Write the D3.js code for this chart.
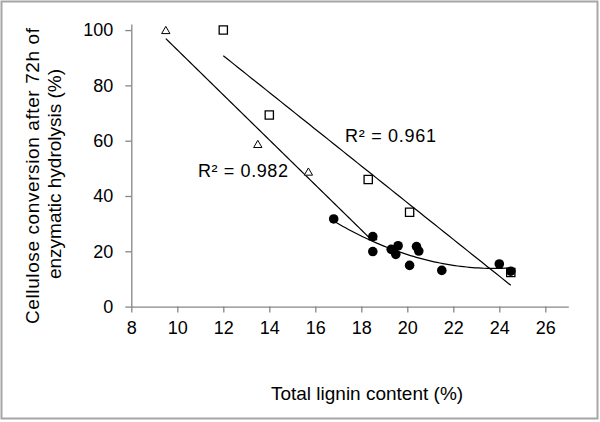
<!DOCTYPE html>
<html>
<head>
<meta charset="utf-8">
<script src="https://cdn.jsdelivr.net/npm/d3@7"></script>
<style>
  body { margin: 0; background: #fff; }
  text { font-family: "Liberation Sans", Arial, sans-serif; fill: #000; }
</style>
</head>
<body>
<div id="canvas"></div>
<script>

// ticks
var xTicks = [8, 10, 12, 14, 16, 18, 20, 22, 24, 26];
var yTicks = [0, 20, 40, 60, 80, 100];

// triangle series (last point sits under a dot)
var triLignin = [9.5, 13.5, 15.7, 18.5];
var triConv = [99.6, 58.4, 48.4, 25.0];

// square series
var sqLignin = [12.0, 14.0, 18.3, 20.1, 24.5];
var sqConv = [100.0, 69.3, 46.0, 34.1, 12.3];

// filled dots
var dotLignin = [16.8, 18.5, 18.5, 19.3, 19.6, 19.5, 20.1, 20.4, 20.5, 21.5, 24.0, 24.5];
var dotConv = [31.7, 25.3, 19.9, 20.7, 22.0, 18.9, 14.9, 21.7, 20.1, 13.1, 15.4, 12.8];

var r2Labels = ["R\u00b2 = 0.961", "R\u00b2 = 0.982"];

var width = 600, height = 422;

var svg = d3.select("#canvas").append("svg")
    .attr("width", width)
    .attr("height", height);

svg.append("rect")
    .attr("x", 1.5).attr("y", 1.5)
    .attr("width", 596).attr("height", 417)
    .attr("fill", "#fff")
    .attr("stroke", "#a6a6a6")
    .attr("stroke-width", 2);

var x = d3.scaleLinear().domain([8, 27]).range([131.3, 568.3]);
var y = d3.scaleLinear().domain([0, 102.2]).range([306.6, 24]);

function zip(a, b) {
    return a.map(function (v, i) { return [v, b[i]]; });
}

// least squares straight line
function linFit(xs, ys) {
    var mx = d3.mean(xs), my = d3.mean(ys);
    var sxy = 0, sxx = 0;
    xs.forEach(function (v, i) {
        sxy += (v - mx) * (ys[i] - my);
        sxx += (v - mx) * (v - mx);
    });
    var b = sxy / sxx;
    return function (v) { return my + b * (v - mx); };
}

// least squares 2nd order polynomial
function quadFit(xs, ys) {
    var s = [0, 0, 0, 0, 0], t = [0, 0, 0];
    xs.forEach(function (v, i) {
        for (var k = 0; k < 5; k++) s[k] += Math.pow(v, k);
        for (var k = 0; k < 3; k++) t[k] += Math.pow(v, k) * ys[i];
    });
    var m = [
        [s[0], s[1], s[2], t[0]],
        [s[1], s[2], s[3], t[1]],
        [s[2], s[3], s[4], t[2]]
    ];
    for (var i = 0; i < 3; i++) {
        for (var j = i + 1; j < 3; j++) {
            var f = m[j][i] / m[i][i];
            for (var k = i; k < 4; k++) m[j][k] -= f * m[i][k];
        }
    }
    var c = [0, 0, 0];
    for (var i = 2; i >= 0; i--) {
        var sum = m[i][3];
        for (var k = i + 1; k < 3; k++) sum -= m[i][k] * c[k];
        c[i] = sum / m[i][i];
    }
    return function (v) { return c[0] + c[1] * v + c[2] * v * v; };
}

// axes
var axisColor = "#868686";

var xAxis = svg.append("g")
    .attr("transform", "translate(0," + y(0) + ")")
    .call(d3.axisBottom(x).tickValues(xTicks).tickSize(6).tickSizeOuter(0).tickPadding(9));
var yAxis = svg.append("g")
    .attr("transform", "translate(" + x(8) + ",0)")
    .call(d3.axisLeft(y).tickValues(yTicks).tickSize(6).tickSizeOuter(0).tickPadding(12));

[xAxis, yAxis].forEach(function (g) {
    g.select(".domain").attr("stroke", axisColor).attr("stroke-width", 1.3);
    g.selectAll(".tick line").attr("stroke", axisColor).attr("stroke-width", 1.3);
    g.selectAll(".tick text")
        .attr("font-family", "Liberation Sans, Arial, sans-serif")
        .attr("font-size", "18px")
        .attr("fill", "#000");
});

// trendlines
var line = d3.line()
    .x(function (d) { return x(d[0]); })
    .y(function (d) { return y(d[1]); });

function drawFit(xs, f) {
    var lo = d3.min(xs), hi = d3.max(xs);
    var pts = d3.range(0, 61).map(function (i) {
        var v = lo + (hi - lo) * i / 60;
        return [v, f(v)];
    });
    svg.append("path")
        .attr("d", line(pts))
        .attr("fill", "none")
        .attr("stroke", "#000")
        .attr("stroke-width", 1.2);
}

drawFit(triLignin, linFit(triLignin, triConv));
drawFit(sqLignin, linFit(sqLignin, sqConv));
drawFit(dotLignin, quadFit(dotLignin, dotConv));

// markers
svg.selectAll(".tri")
    .data(zip(triLignin, triConv)).enter()
    .append("path")
    .attr("class", "tri")
    .attr("d", d3.symbol().type(d3.symbolTriangle).size(30))
    .attr("transform", function (d) { return "translate(" + x(d[0]) + "," + y(d[1]) + ")"; })
    .attr("fill", "#fff")
    .attr("stroke", "#000")
    .attr("stroke-width", 1);

svg.selectAll(".sq")
    .data(zip(sqLignin, sqConv)).enter()
    .append("path")
    .attr("class", "sq")
    .attr("d", d3.symbol().type(d3.symbolSquare).size(68))
    .attr("transform", function (d) { return "translate(" + x(d[0]) + "," + y(d[1]) + ")"; })
    .attr("fill", "#fff")
    .attr("stroke", "#000")
    .attr("stroke-width", 1.3);

svg.selectAll(".dot")
    .data(zip(dotLignin, dotConv)).enter()
    .append("circle")
    .attr("class", "dot")
    .attr("r", 4.8)
    .attr("cx", function (d) { return x(d[0]); })
    .attr("cy", function (d) { return y(d[1]); })
    .attr("fill", "#000");

// R squared labels
svg.append("text")
    .attr("x", 345).attr("y", 141.5)
    .attr("font-size", "18px")
    .attr("textLength", 91)
    .text(r2Labels[0]);
svg.append("text")
    .attr("x", 198).attr("y", 177)
    .attr("font-size", "18px")
    .attr("textLength", 90)
    .text(r2Labels[1]);

// axis titles
svg.append("text")
    .attr("x", 367).attr("y", 400)
    .attr("text-anchor", "middle")
    .attr("font-size", "19px")
    .text("Total lignin content (%)");

svg.append("text")
    .attr("transform", "translate(39,176) rotate(-90)")
    .attr("text-anchor", "middle")
    .attr("font-size", "19px")
    .attr("textLength", 296)
    .text("Cellulose conversion after 72h of");
svg.append("text")
    .attr("transform", "translate(61,174) rotate(-90)")
    .attr("text-anchor", "middle")
    .attr("font-size", "19px")
    .text("enzymatic hydrolysis (%)");

</script>
</body>
</html>
